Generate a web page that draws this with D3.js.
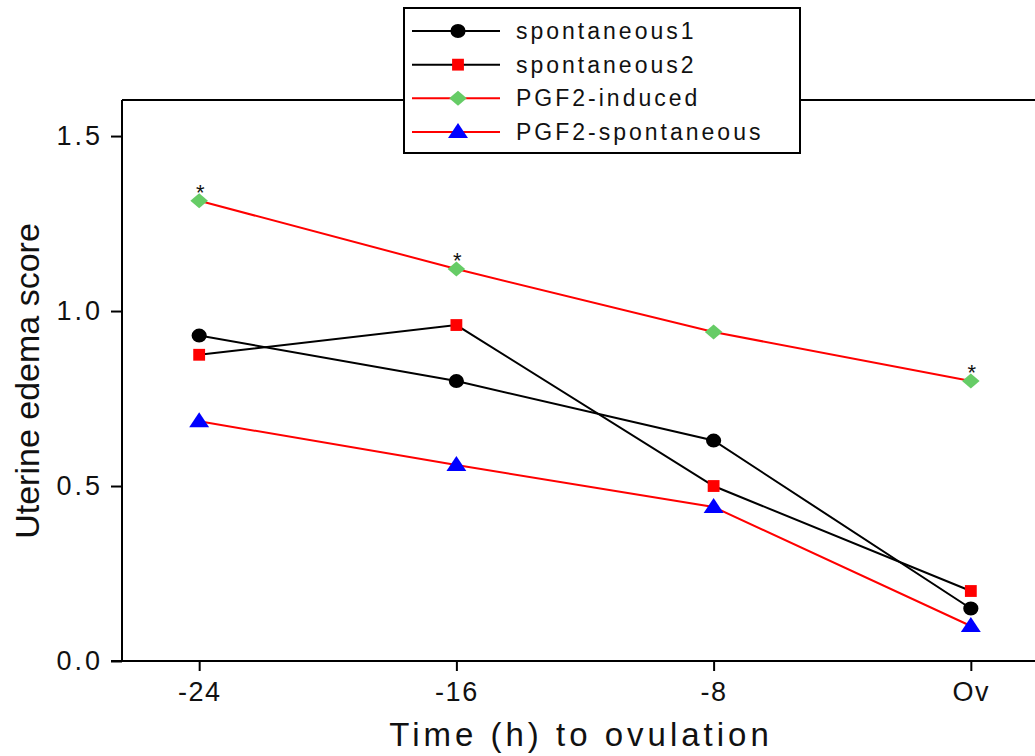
<!DOCTYPE html>
<html>
<head>
<meta charset="utf-8">
<script src="https://cdn.jsdelivr.net/npm/d3@7"></script>
<style>
  body { margin: 0; background: #fff; }
  svg { display: block; }
  text { font-family: "Liberation Sans", sans-serif; }
</style>
</head>
<body>
<svg id="chart" width="1035" height="756"></svg>
<script>
// data
const timeLabels = ["-24", "-16", "-8", "Ov"];
const spontaneous1 = [0.93, 0.80, 0.63, 0.15];
const spontaneous2 = [0.875, 0.96, 0.50, 0.20];
const pgfInduced = [1.315, 1.12, 0.94, 0.80];
const pgfSpontaneous = [0.685, 0.56, 0.44, 0.10];
const starredPoints = [0, 1, 3]; // asterisks on PGF2-induced
const yTicks = [0, 0.5, 1.0, 1.5];

const series = [
  {name: "spontaneous1", values: spontaneous1, line: "#000", fill: "#000", shape: "circle"},
  {name: "spontaneous2", values: spontaneous2, line: "#000", fill: "#ff0000", shape: "square"},
  {name: "PGF2-induced", values: pgfInduced, line: "#ff0000", fill: "#66cc66", shape: "diamond"},
  {name: "PGF2-spontaneous", values: pgfSpontaneous, line: "#ff0000", fill: "#0000ff", shape: "triangle"}
];

const svg = d3.select("#chart");
const mLeft = 122, mTop = 100, mBottom = 661, mRight = 1048;

const x = d3.scaleLinear().domain([-0.3, 3.3]).range([mLeft, mRight]);
const y = d3.scaleLinear().domain([0, 1.603]).range([mBottom, mTop]);

// frame: top line and axes
svg.append("line").attr("x1", mLeft).attr("x2", 1035).attr("y1", mTop).attr("y2", mTop)
  .attr("stroke", "#000").attr("stroke-width", 2);

const yAxis = svg.append("g").attr("transform", `translate(${mLeft},0)`)
  .call(d3.axisLeft(y).tickValues(yTicks).tickFormat(d3.format(".1f")).tickSize(11).tickPadding(8));
const xAxis = svg.append("g").attr("transform", `translate(0,${mBottom})`)
  .call(d3.axisBottom(x).tickValues([0, 1, 2, 3]).tickFormat(i => timeLabels[i]).tickSize(10).tickPadding(11));

[yAxis, xAxis].forEach(g => {
  g.select(".domain").remove();
  g.selectAll(".tick line").attr("stroke", "#000").attr("stroke-width", 2);
  g.selectAll(".tick text").attr("fill", "#111").style("font-size", "27px")
    .style("font-family", "'Liberation Sans', sans-serif");
});
yAxis.selectAll(".tick text").style("letter-spacing", "3px");
xAxis.selectAll(".tick text").style("letter-spacing", "1.5px");
svg.append("line").attr("x1", mLeft).attr("x2", mLeft).attr("y1", mTop).attr("y2", mBottom)
  .attr("stroke", "#000").attr("stroke-width", 2);
svg.append("line").attr("x1", mLeft - 11).attr("x2", 1035).attr("y1", mBottom).attr("y2", mBottom)
  .attr("stroke", "#000").attr("stroke-width", 2);

// axis titles
svg.append("text").attr("x", 581).attr("y", 746).attr("text-anchor", "middle")
  .style("font-size", "33px").style("letter-spacing", "4px")
  .attr("fill", "#111").text("Time (h) to ovulation");
svg.append("text").attr("transform", "translate(39,381) rotate(-90)").attr("text-anchor", "middle")
  .style("font-size", "34px").attr("fill", "#111").text("Uterine edema score");

// marker shapes
const symbolFor = {
  circle: d3.symbol(d3.symbolCircle, 150),
  square: d3.symbol(d3.symbolSquare, 140),
  diamond: d3.symbol(d3.symbolSquare, 140),
  triangle: d3.symbol(d3.symbolTriangle, 130)
};
function drawMarker(g, s, cx, cy) {
  const p = g.append("path").attr("d", symbolFor[s.shape]()).attr("fill", s.fill);
  if (s.shape === "diamond") p.attr("transform", `translate(${cx},${cy}) scale(1.05,0.9) rotate(45)`);
  else if (s.shape === "circle") p.attr("transform", `translate(${cx},${cy}) scale(1.1,1)`);
  else if (s.shape === "triangle") p.attr("transform", `translate(${cx},${cy + 1}) scale(1.15,1)`);
  else p.attr("transform", `translate(${cx},${cy})`);
}

const line = d3.line().x((d, i) => x(i)).y(d => y(d));
const plot = svg.append("g");
series.forEach(s => {
  plot.append("path").datum(s.values).attr("d", line)
    .attr("fill", "none").attr("stroke", s.line).attr("stroke-width", 2);
});
series.forEach(s => {
  s.values.forEach((v, i) => drawMarker(plot, s, x(i), y(v)));
});

// significance asterisks
starredPoints.forEach(i => {
  plot.append("text").attr("x", x(i) + 1).attr("y", y(pgfInduced[i]) - 1).attr("text-anchor", "middle")
    .style("font-size", "22px").attr("fill", "#111").text("*");
});

// legend
const legend = svg.append("g");
legend.append("rect").attr("x", 404).attr("y", 8).attr("width", 396).attr("height", 145)
  .attr("fill", "#fff").attr("stroke", "#000").attr("stroke-width", 2);
const rowY = d3.scalePoint().domain(series.map(s => s.name)).range([31, 132]);
series.forEach(s => {
  const cy = rowY(s.name);
  legend.append("line").attr("x1", 412).attr("x2", 500).attr("y1", cy).attr("y2", cy)
    .attr("stroke", s.line).attr("stroke-width", 2);
  drawMarker(legend, s, 458, cy);
  legend.append("text").attr("x", 516).attr("y", cy + 8)
    .style("font-size", "23px").style("letter-spacing", "3px")
    .attr("fill", "#111").text(s.name);
});
</script>
</body>
</html>
